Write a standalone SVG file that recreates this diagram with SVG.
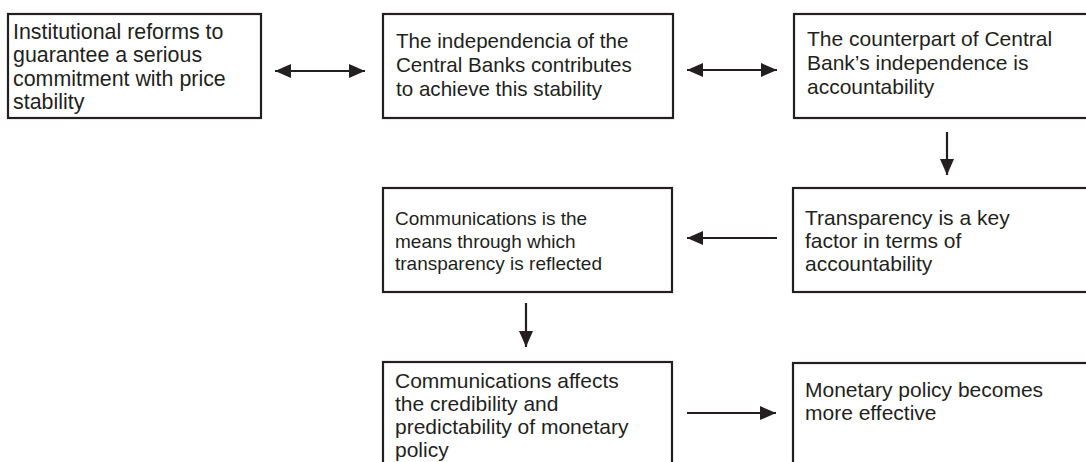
<svg xmlns="http://www.w3.org/2000/svg" width="1086" height="462" viewBox="0 0 1086 462">
  <style>
    .box { fill: #ffffff; stroke: #231f20; stroke-width: 2.2; }
    .lbl { font-family: "Liberation Sans", Arial, sans-serif; font-size: 21px; fill: #231f20; }
    .sm { font-size: 19px; }
    .conn { stroke: #231f20; stroke-width: 2.2; fill: none; }
  </style>
  <defs>
    <marker id="head" markerUnits="userSpaceOnUse" markerWidth="18" markerHeight="16" refX="16" refY="8" orient="auto-start-reverse">
      <path d="M0,1 L16,8 L0,15 Z" fill="#231f20"/>
    </marker>
  </defs>

  <rect width="1086" height="462" fill="#ffffff"/>

  <g id="n-reforms">
    <rect class="box" x="8" y="14" width="253" height="104"/>
    <text class="lbl" x="13" y="38.5" style="font-size:21.4px">Institutional reforms to</text>
    <text class="lbl" x="13" y="62" style="font-size:21.4px">guarantee a serious</text>
    <text class="lbl" x="13" y="85.5" style="font-size:21.4px">commitment with price</text>
    <text class="lbl" x="13" y="109" style="font-size:21.4px">stability</text>
  </g>

  <g id="n-independence">
    <rect class="box" x="383" y="14" width="290" height="104"/>
    <text class="lbl" x="396" y="48" style="font-size:20.6px">The independencia of the</text>
    <text class="lbl" x="396" y="72" style="font-size:20.6px">Central Banks contributes</text>
    <text class="lbl" x="396" y="96" style="font-size:20.6px">to achieve this stability</text>
  </g>

  <g id="n-counterpart">
    <rect class="box" x="794" y="14" width="300" height="104"/>
    <text class="lbl" x="807" y="46">The counterpart of Central</text>
    <text class="lbl" x="807" y="70">Bank’s independence is</text>
    <text class="lbl" x="807" y="94">accountability</text>
  </g>

  <g id="n-transparency">
    <rect class="box" x="793" y="188" width="300" height="104"/>
    <text class="lbl" x="805" y="225">Transparency is a key</text>
    <text class="lbl" x="805" y="248">factor in terms of</text>
    <text class="lbl" x="805" y="271">accountability</text>
  </g>

  <g id="n-communications">
    <rect class="box" x="383" y="188" width="289" height="104"/>
    <text class="lbl sm" x="395" y="225">Communications is the</text>
    <text class="lbl sm" x="395" y="247.5">means through which</text>
    <text class="lbl sm" x="395" y="270">transparency is reflected</text>
  </g>

  <g id="n-credibility">
    <rect class="box" x="383" y="362" width="289" height="110"/>
    <text class="lbl" x="395" y="388">Communications affects</text>
    <text class="lbl" x="395" y="411">the credibility and</text>
    <text class="lbl" x="395" y="434">predictability of monetary</text>
    <text class="lbl" x="395" y="457">policy</text>
  </g>

  <g id="n-effective">
    <rect class="box" x="793" y="363" width="300" height="110"/>
    <text class="lbl" x="805" y="396.5">Monetary policy becomes</text>
    <text class="lbl" x="805" y="419.5">more effective</text>
  </g>

  <g id="connectors">
    <line class="conn" x1="275" y1="71" x2="365" y2="71" marker-start="url(#head)" marker-end="url(#head)"/>
    <line class="conn" x1="687" y1="70" x2="777" y2="70" marker-start="url(#head)" marker-end="url(#head)"/>
    <line class="conn" x1="947" y1="132" x2="947" y2="175" marker-end="url(#head)"/>
    <line class="conn" x1="777" y1="238" x2="687" y2="238" marker-end="url(#head)"/>
    <line class="conn" x1="526" y1="303" x2="526" y2="347" marker-end="url(#head)"/>
    <line class="conn" x1="687" y1="413" x2="776" y2="413" marker-end="url(#head)"/>
  </g>
</svg>
